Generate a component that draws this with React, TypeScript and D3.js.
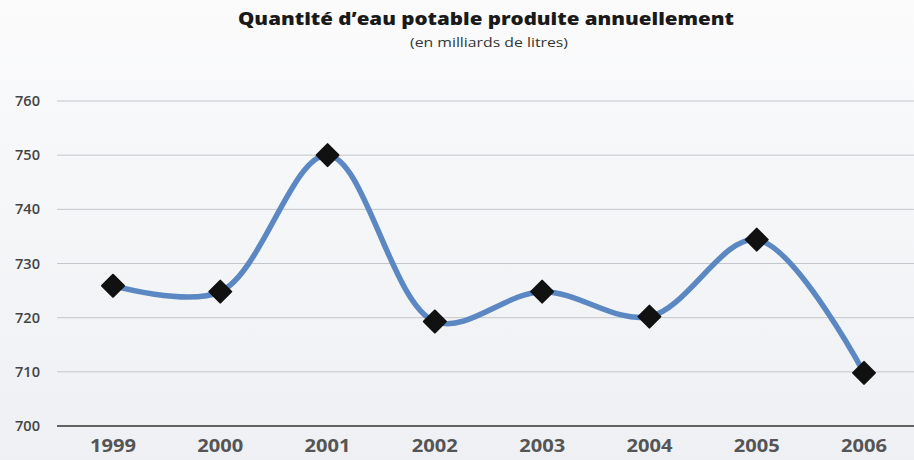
import React from "react";
import * as d3 from "d3";

const years = ["1999", "2000", "2001", "2002", "2003", "2004", "2005", "2006"];
const values = [725.9, 724.8, 750, 719.3, 724.8, 720.2, 734.4, 709.8];
const yTicks = [700, 710, 720, 730, 740, 750, 760];
const title = "Quantité d’eau potable produite annuellement";
const subtitle = "(en milliards de litres)";

export default function App() {
  const W = 914, H = 460;
  const x = d3.scalePoint<string>().domain(years).range([113, 864]);
  const y = d3.scaleLinear().domain([700, 760]).range([426, 101]);
  const line = d3
    .line<number>()
    .x((_, i) => x(years[i]) as number)
    .y((d) => y(d))
    .curve(d3.curveCatmullRom.alpha(0.5));
  const font = "'Open Sans', 'Lato', sans-serif";
  return (
    <svg width={W} height={H} style={{ position: "absolute", left: 0, top: 0 }} fontFamily={font}>
      <defs>
        <linearGradient id="bg" x1="0" y1="0" x2="0" y2="1">
          <stop offset="0" stopColor="#fbfbfc" />
          <stop offset="1" stopColor="#eef0f3" />
        </linearGradient>
      </defs>
      <rect width={W} height={H} fill="url(#bg)" />
      <text x={486} y={25} textAnchor="middle" fontSize={17} fontWeight={800} fill="#1a1a1a"
        textLength={496} lengthAdjust="spacingAndGlyphs">
        {title}
      </text>
      <text x={489} y={47} textAnchor="middle" fontSize={12} fill="#333"
        textLength={158} lengthAdjust="spacingAndGlyphs">
        {subtitle}
      </text>
      {yTicks.map((t) => (
        <g key={t}>
          {t !== 700 && (
            <line x1={57} x2={W} y1={y(t)} y2={y(t)} stroke="#c4c6c9" strokeWidth={1} />
          )}
          <text x={40} y={y(t) + 5} textAnchor="end" fontSize={14} fill="#444" fontWeight={600}
            textLength={25} lengthAdjust="spacingAndGlyphs">
            {t}
          </text>
        </g>
      ))}
      <line x1={57} x2={W} y1={y(700)} y2={y(700)} stroke="#333" strokeWidth={1.5} />
      {years.map((yr) => (
        <text key={yr} x={x(yr)} y={452} textAnchor="middle" fontSize={17} fontWeight={700} fill="#555"
          textLength={46} lengthAdjust="spacingAndGlyphs">
          {yr}
        </text>
      ))}
      <path d={line(values) || ""} fill="none" stroke="#5b88c2" strokeWidth={5.5} strokeLinecap="round" />
      {values.map((v, i) => {
        const cx = x(years[i]) as number;
        const cy = y(v);
        const s = 11;
        return (
          <path
            key={i}
            d={`M${cx},${cy - s}L${cx + s},${cy}L${cx},${cy + s}L${cx - s},${cy}Z`}
            fill="#111"
            stroke="#111"
            strokeLinejoin="round"
            strokeWidth={2}
          />
        );
      })}
    </svg>
  );
}
